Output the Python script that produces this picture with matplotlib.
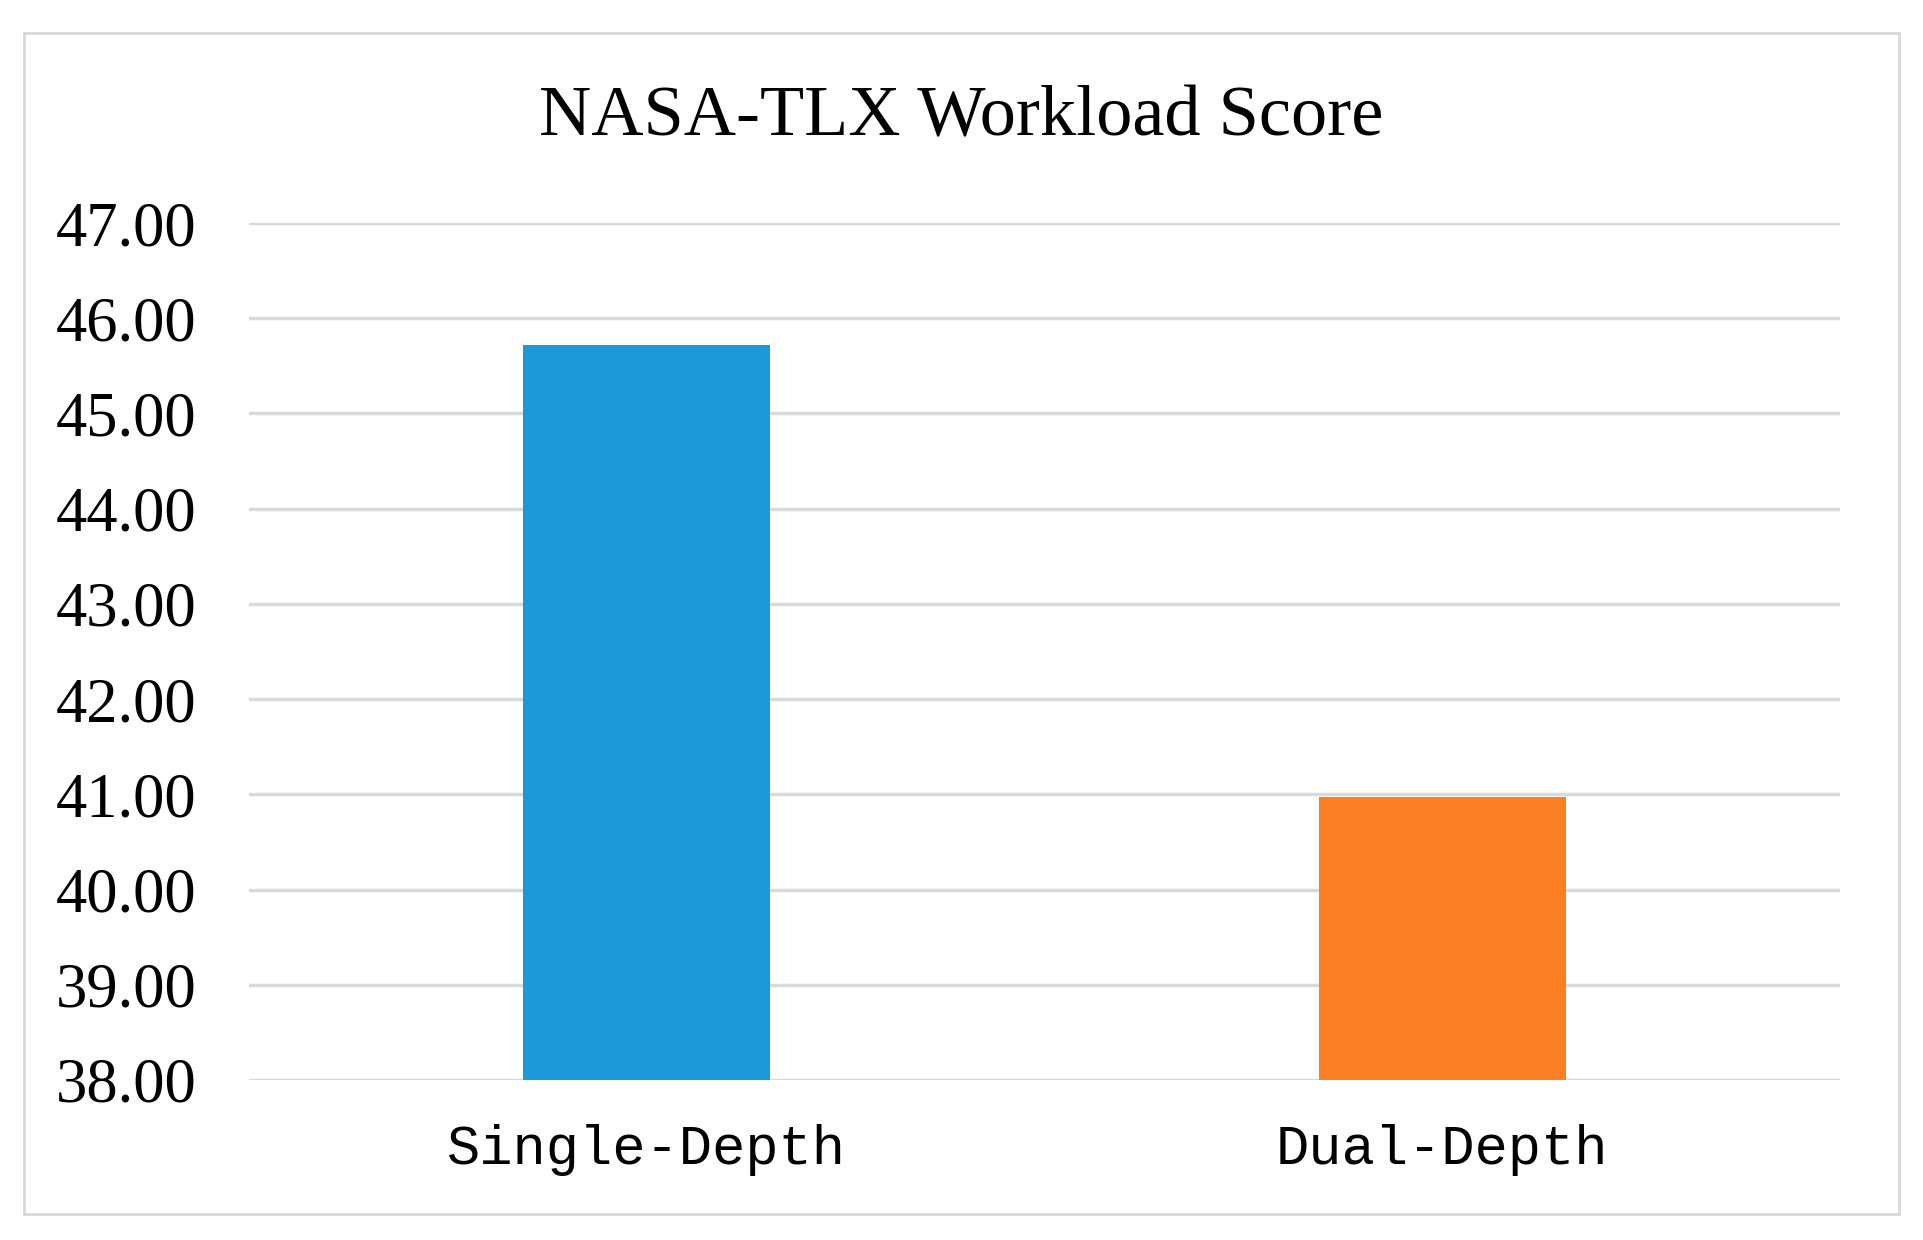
import matplotlib
matplotlib.use("Agg")
import matplotlib.pyplot as plt
from matplotlib.patches import Rectangle

categories = ["Single-Depth", "Dual-Depth"]
values = [45.72, 40.97]
colors = ["#1a9ad6", "#fd7f23"]
yticks = [38, 39, 40, 41, 42, 43, 44, 45, 46, 47]

W, H = 1923, 1240
fig = plt.figure(figsize=(W/100, H/100), dpi=100)
fig.patches.append(Rectangle((24/W, 1-1214/H), (1899-24)/W, (1214-33)/H,
                             transform=fig.transFigure, fill=False,
                             edgecolor="#d9d9d9", linewidth=2))
ax = fig.add_axes([249/W, 1-1080/H, (1840-249)/W, (1080-223)/H])
x = [0, 1]
ax.bar(x, values, width=0.31, color=colors, zorder=3)
ax.set_xlim(-0.5, 1.5)
ax.set_ylim(38, 47)
ax.set_yticks(yticks)
ax.set_yticklabels([f"{v:.2f}" for v in yticks], family="Liberation Serif", fontsize=45)
ax.set_xticks(x)
ax.set_xticklabels(categories, family="Liberation Mono", fontsize=40)
ax.tick_params(axis="y", length=0, pad=38)
ax.tick_params(axis="x", length=0, pad=32)
ax.grid(axis="y", color="#d9d9d9", linewidth=2.5, zorder=0)
for s in ax.spines.values():
    s.set_visible(False)
fig.text(0.5, 1-118/H, "NASA-TLX Workload Score", ha="center", va="center",
         family="Liberation Serif", fontsize=52)
fig.savefig("out.png", dpi=100)
